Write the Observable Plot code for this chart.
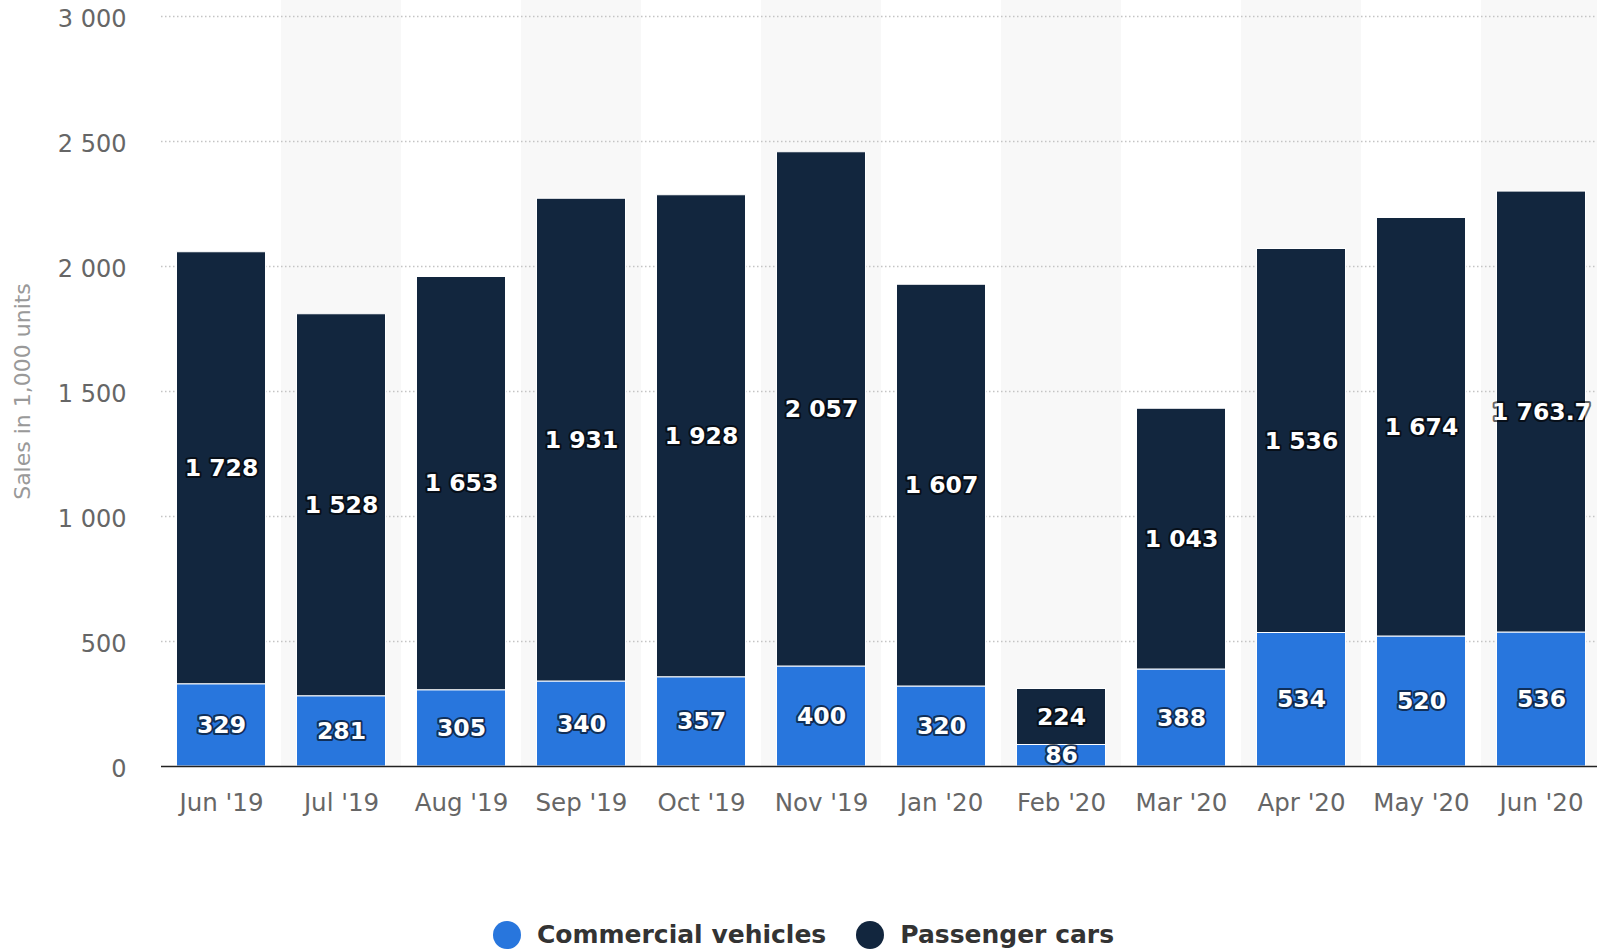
<!DOCTYPE html>
<html>
<head>
<meta charset="utf-8">
<script src="https://cdn.jsdelivr.net/npm/d3@7"></script>
<script src="https://cdn.jsdelivr.net/npm/@observablehq/plot@0.6"></script>
<style>
  html, body { margin: 0; padding: 0; background: #fff; font-family: "DejaVu Sans", sans-serif; }
  #chart { position: relative; width: 1597px; height: 951px; overflow: hidden; }
  #legend { position: absolute; top: 920px; left: 5px; width: 1597px; display: flex; justify-content: center; gap: 30px; font-size: 25px; font-weight: bold; color: #333; }
  .item { display: flex; align-items: center; gap: 16px; }
  .sw { width: 28px; height: 28px; border-radius: 50%; display: inline-block; }
</style>
</head>
<body>
<div id="chart"></div>
<script>
const months = ["Jun '19","Jul '19","Aug '19","Sep '19","Oct '19","Nov '19","Jan '20","Feb '20","Mar '20","Apr '20","May '20","Jun '20"];
const commercial = [329, 281, 305, 340, 357, 400, 320, 86, 388, 534, 520, 536];
const passenger = [1728, 1528, 1653, 1931, 1928, 2057, 1607, 224, 1043, 1536, 1674, 1763.7];
const seriesNames = ["Commercial vehicles", "Passenger cars"];
const seriesColors = ["#2876dd", "#12263e"];
const yTicks = [0, 500, 1000, 1500, 2000, 2500, 3000];

const locale = d3.formatLocale({decimal: ".", thousands: " ", grouping: [3], currency: ["", ""]});
const fmt = locale.format(",");

const rows = [];
months.forEach((m, i) => {
  rows.push({month: m, series: seriesNames[0], value: commercial[i]});
  rows.push({month: m, series: seriesNames[1], value: passenger[i]});
});
const shaded = months.filter((m, i) => i % 2 === 1);

const chart = Plot.plot({
  width: 1597,
  height: 840,
  marginLeft: 161,
  marginRight: 0,
  marginTop: 16,
  marginBottom: 74,
  style: {fontFamily: "DejaVu Sans, sans-serif", background: "#fff"},
  x: {domain: months, padding: 0, round: false, range: [161, 1601], label: null},
  y: {domain: [0, 3000], label: null},
  color: {domain: seriesNames, range: seriesColors},
  marks: [
    Plot.barY(shaded, {x: d => d, y1: 0, y2: 3000, fill: "#f8f8f8", insetTop: -16}),
    Plot.ruleY(yTicks.filter(t => t > 0), {stroke: "#c4c4c4", strokeWidth: 1.3, strokeDasharray: "1.5,2.5"}),
    Plot.barY(rows, Plot.stackY({x: "month", y: "value", fill: "series", order: seriesNames, insetLeft: 15.5, insetRight: 15.5, stroke: "#fff", strokeWidth: 1})),
    Plot.ruleY([0], {stroke: "#222", strokeWidth: 1.6}),
    Plot.text(rows, Plot.stackY({x: "month", y: "value", z: "series", order: seriesNames, text: d => fmt(d.value), fill: "#fff", stroke: "#000", strokeWidth: 4, strokeOpacity: 0.6, fontSize: 23.5, fontWeight: "bold"})),
    Plot.axisY({ticks: yTicks, tickSize: 0, tickPadding: 35, tickFormat: fmt, fontSize: 24, color: "#666", dy: 3, label: null}),
    Plot.axisX({tickSize: 0, tickPadding: 27, fontSize: 24.5, color: "#666", label: null}),
    Plot.text(["Sales in 1,000 units"], {frameAnchor: "left", dx: -139, rotate: -90, textAnchor: "middle", fill: "#999", fontSize: 22})
  ]
});
document.getElementById("chart").appendChild(chart);

const legend = document.createElement("div");
legend.id = "legend";
seriesNames.forEach((n, i) => {
  const it = document.createElement("div");
  it.className = "item";
  const sw = document.createElement("span");
  sw.className = "sw";
  sw.style.background = seriesColors[i];
  const t = document.createElement("span");
  t.textContent = n;
  it.appendChild(sw); it.appendChild(t);
  legend.appendChild(it);
});
document.getElementById("chart").appendChild(legend);
</script>
</body>
</html>
